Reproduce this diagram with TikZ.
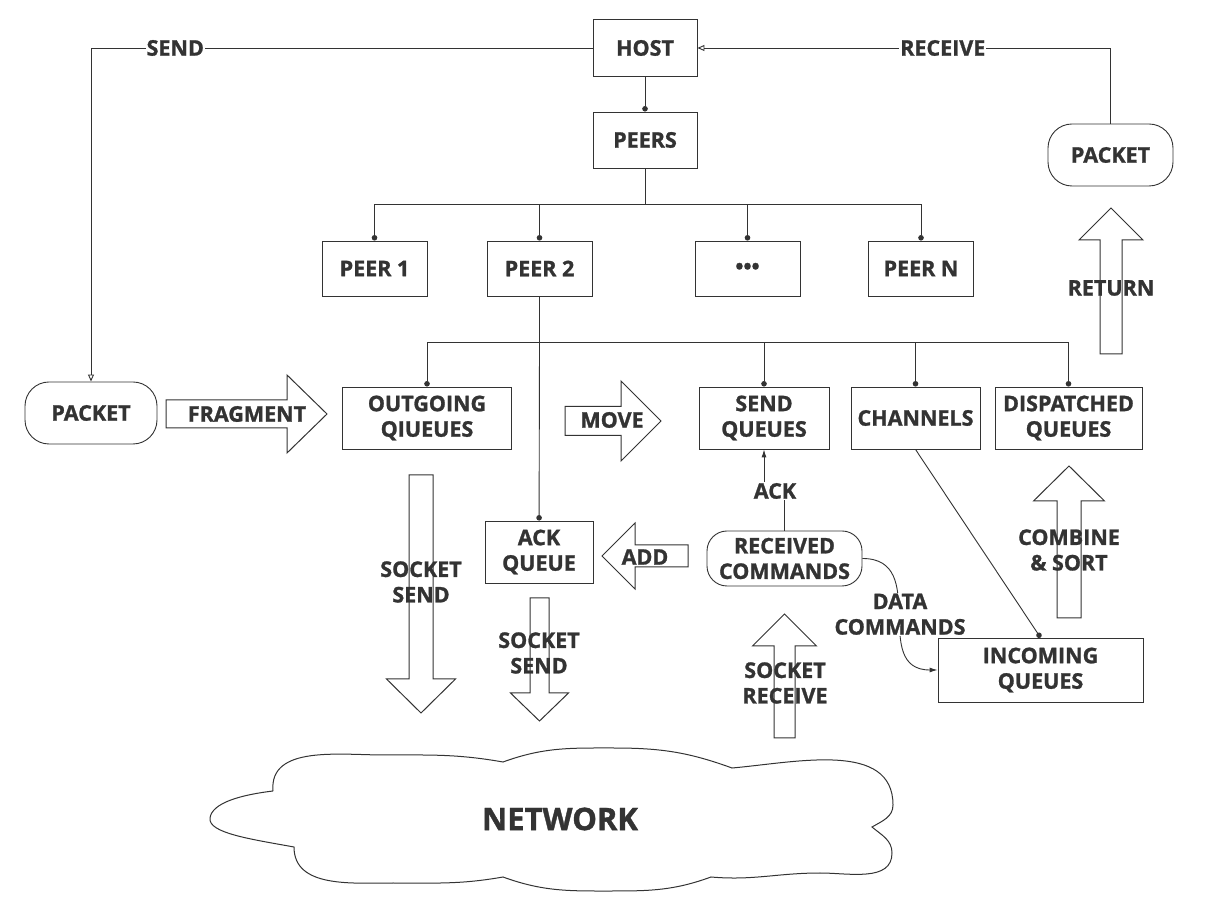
\documentclass[tikz,border=0pt]{standalone}
\usepackage{fontspec}
\setmainfont{Open Sans}[BoldFeatures={FakeBold=1.2}]
\usetikzlibrary{arrows.meta,positioning,calc}
\definecolor{ink}{HTML}{333333}

% hollow block arrow: tail, angle, length, shaft half width, head half width, head length
\newcommand{\fatarrow}[6]{%
  \draw[fat, shift={#1}, rotate=#2] (0,-#4) -- ({#3-#6},-#4) -- ({#3-#6},-#5) -- (#3,0)
    -- ({#3-#6},#5) -- ({#3-#6},#4) -- (0,#4) -- cycle;}

\begin{document}
\begin{tikzpicture}[x=1pt, y=1pt, color=ink, line width=0.9pt,
  txt/.style={font=\fontsize{21.5}{25.5}\selectfont\bfseries, align=center, text=ink},
  box/.style={txt, draw, minimum width=104pt, minimum height=56pt, inner sep=2pt},
  pill/.style={box, rounded corners=24pt},
  lbl/.style={txt, inner sep=1pt},
  tag/.style={lbl, fill=white},
  dotend/.style={-{Circle[length=5.5pt]}},
  opentip/.style={-{Triangle[open, length=7pt, width=6pt]}},
  arr/.style={-{Latex[length=8pt, width=5pt]}},
  fat/.style={line width=1pt, fill=white, line join=miter}]
\useasboundingbox (0,0) rectangle (1220,915);
\fill[white] (0,0) rectangle (1220,915);

% host and peers
\node[box, minimum height=57pt] (host) at (645,867) {HOST};
\node[box] (peers) at (645,775) {PEERS};
\node[box, minimum width=105pt, minimum height=55pt] (p1) at (374.5,646.5) {PEER 1};
\node[box, minimum width=105pt, minimum height=55pt] (p2) at (539.5,646.5) {PEER 2};
\node[box, minimum width=105pt, minimum height=55pt] (p3) at (747.5,646.5) {\textbullet\textbullet\textbullet};
\node[box, minimum width=105pt, minimum height=55pt] (pn) at (921,646.5) {PEER N};

% queues of one peer
\node[box, minimum width=169pt, minimum height=62pt] (oq) at (427,497) {OUTGOING\\QIUEUES};
\node[box, minimum width=130pt, minimum height=62pt] (sq) at (764,497) {SEND\\QUEUES};
\node[box, minimum width=129pt, minimum height=62pt] (ch) at (915.5,497) {CHANNELS};
\node[box, minimum width=147pt, minimum height=62pt] (dq) at (1068.5,497) {DISPATCHED\\QUEUES};
\node[box, minimum width=108pt, minimum height=62pt] (aq) at (539,363) {ACK\\QUEUE};
\node[pill, minimum width=155pt, minimum height=55pt, rounded corners=20pt] (rc) at (784.5,356.5) {RECEIVED\\COMMANDS};
\node[box, minimum width=205pt, minimum height=64pt] (iq) at (1040.5,245) {INCOMING\\QUEUES};

% packets
\node[pill, minimum width=132pt, minimum height=62pt] (pktl) at (91,502) {PACKET};
\node[pill, minimum width=125pt, minimum height=62pt] (pktr) at (1110.5,760) {PACKET};

% block arrows
\fatarrow{(166,501)}{0}{161}{14}{39}{40}
\fatarrow{(565,494)}{0}{96}{14.5}{40}{40}
\fatarrow{(688,359)}{180}{86}{11}{33}{33}
\fatarrow{(421,440)}{-90}{238}{12}{34.5}{34}
\fatarrow{(539.5,317)}{-90}{123}{9.5}{29}{28}
\fatarrow{(784.5,177)}{90}{124}{10.5}{32}{32}
\fatarrow{(1069,297)}{90}{152}{12}{35.5}{35}
\fatarrow{(1111,561)}{90}{146}{11}{32}{32}
\node[lbl] (fragl) at (247,501) {FRAGMENT};
\node[lbl] (movel) at (612,495) {MOVE};
\node[lbl] (addl) at (645,358) {ADD};
\node[lbl] (ssendl) at (421,333) {SOCKET\\SEND};
\node[lbl] (ackssendl) at (539,262) {SOCKET\\SEND};
\node[lbl] (srecvl) at (785,232) {SOCKET\\RECEIVE};
\node[lbl] (combl) at (1069,365) {COMBINE\\\& SORT};
\node[lbl] (retl) at (1111,627) {RETURN};

% tree
\draw[dotend] (host) -- (peers);
\coordinate (ptop) at (645,711);
\draw (peers) -- (ptop);
\foreach \p in {p1,p2,p3,pn} \draw[dotend] (ptop) -| (\p.north);
\coordinate (pbot) at (539.5,573);
\draw (p2) -- (pbot);
\foreach \q in {oq,sq,ch,dq} \draw[dotend] (pbot) -| (\q.north);
\draw[dotend] (pbot) -- (aq);
\draw[dotend] (ch.south) -- (iq.north);

% host loop
\draw[opentip] (host.west) -| node[tag, pos=0.416]{SEND} (pktl.north);
\draw[opentip] (pktr.north) |- node[tag, pos=0.703]{RECEIVE} (host.east);

% received commands
\node[lbl] (ackl) at (775,424) {ACK};
\draw (rc.north) -- (rc.north |- ackl.south);
\draw[arr] (sq.south |- ackl.north) -- (sq.south);
\draw[arr] (rc.east) to[out=0, in=180, looseness=1.3] node[tag]{DATA\\COMMANDS} (iq.west);

% network cloud
\draw[line width=1pt] (273,124) to[out=95,in=180] (385,160) to[out=0,in=170] (503,153)
  to[out=20,in=180] (613,167) to[out=0,in=160] (732,147)
  to[out=5,in=90] (893,110) to[out=-90,in=30] (872,88)
  to[out=-40,in=90] (892,62) to[out=-90,in=0] (820,42) to[out=180,in=-5] (711,38)
  to[out=-160,in=0] (613,24) to[out=180,in=-20] (503,38)
  to[out=-170,in=0] (393,32) to[out=180,in=-90] (294,68)
  .. controls (250,76) and (208,82) .. (210,97)
  .. controls (212,112) and (240,120) .. (273,124);
\node[txt, font=\fontsize{31}{36}\selectfont\bfseries] (net) at (560,96) {NETWORK};
\end{tikzpicture}
\end{document}
